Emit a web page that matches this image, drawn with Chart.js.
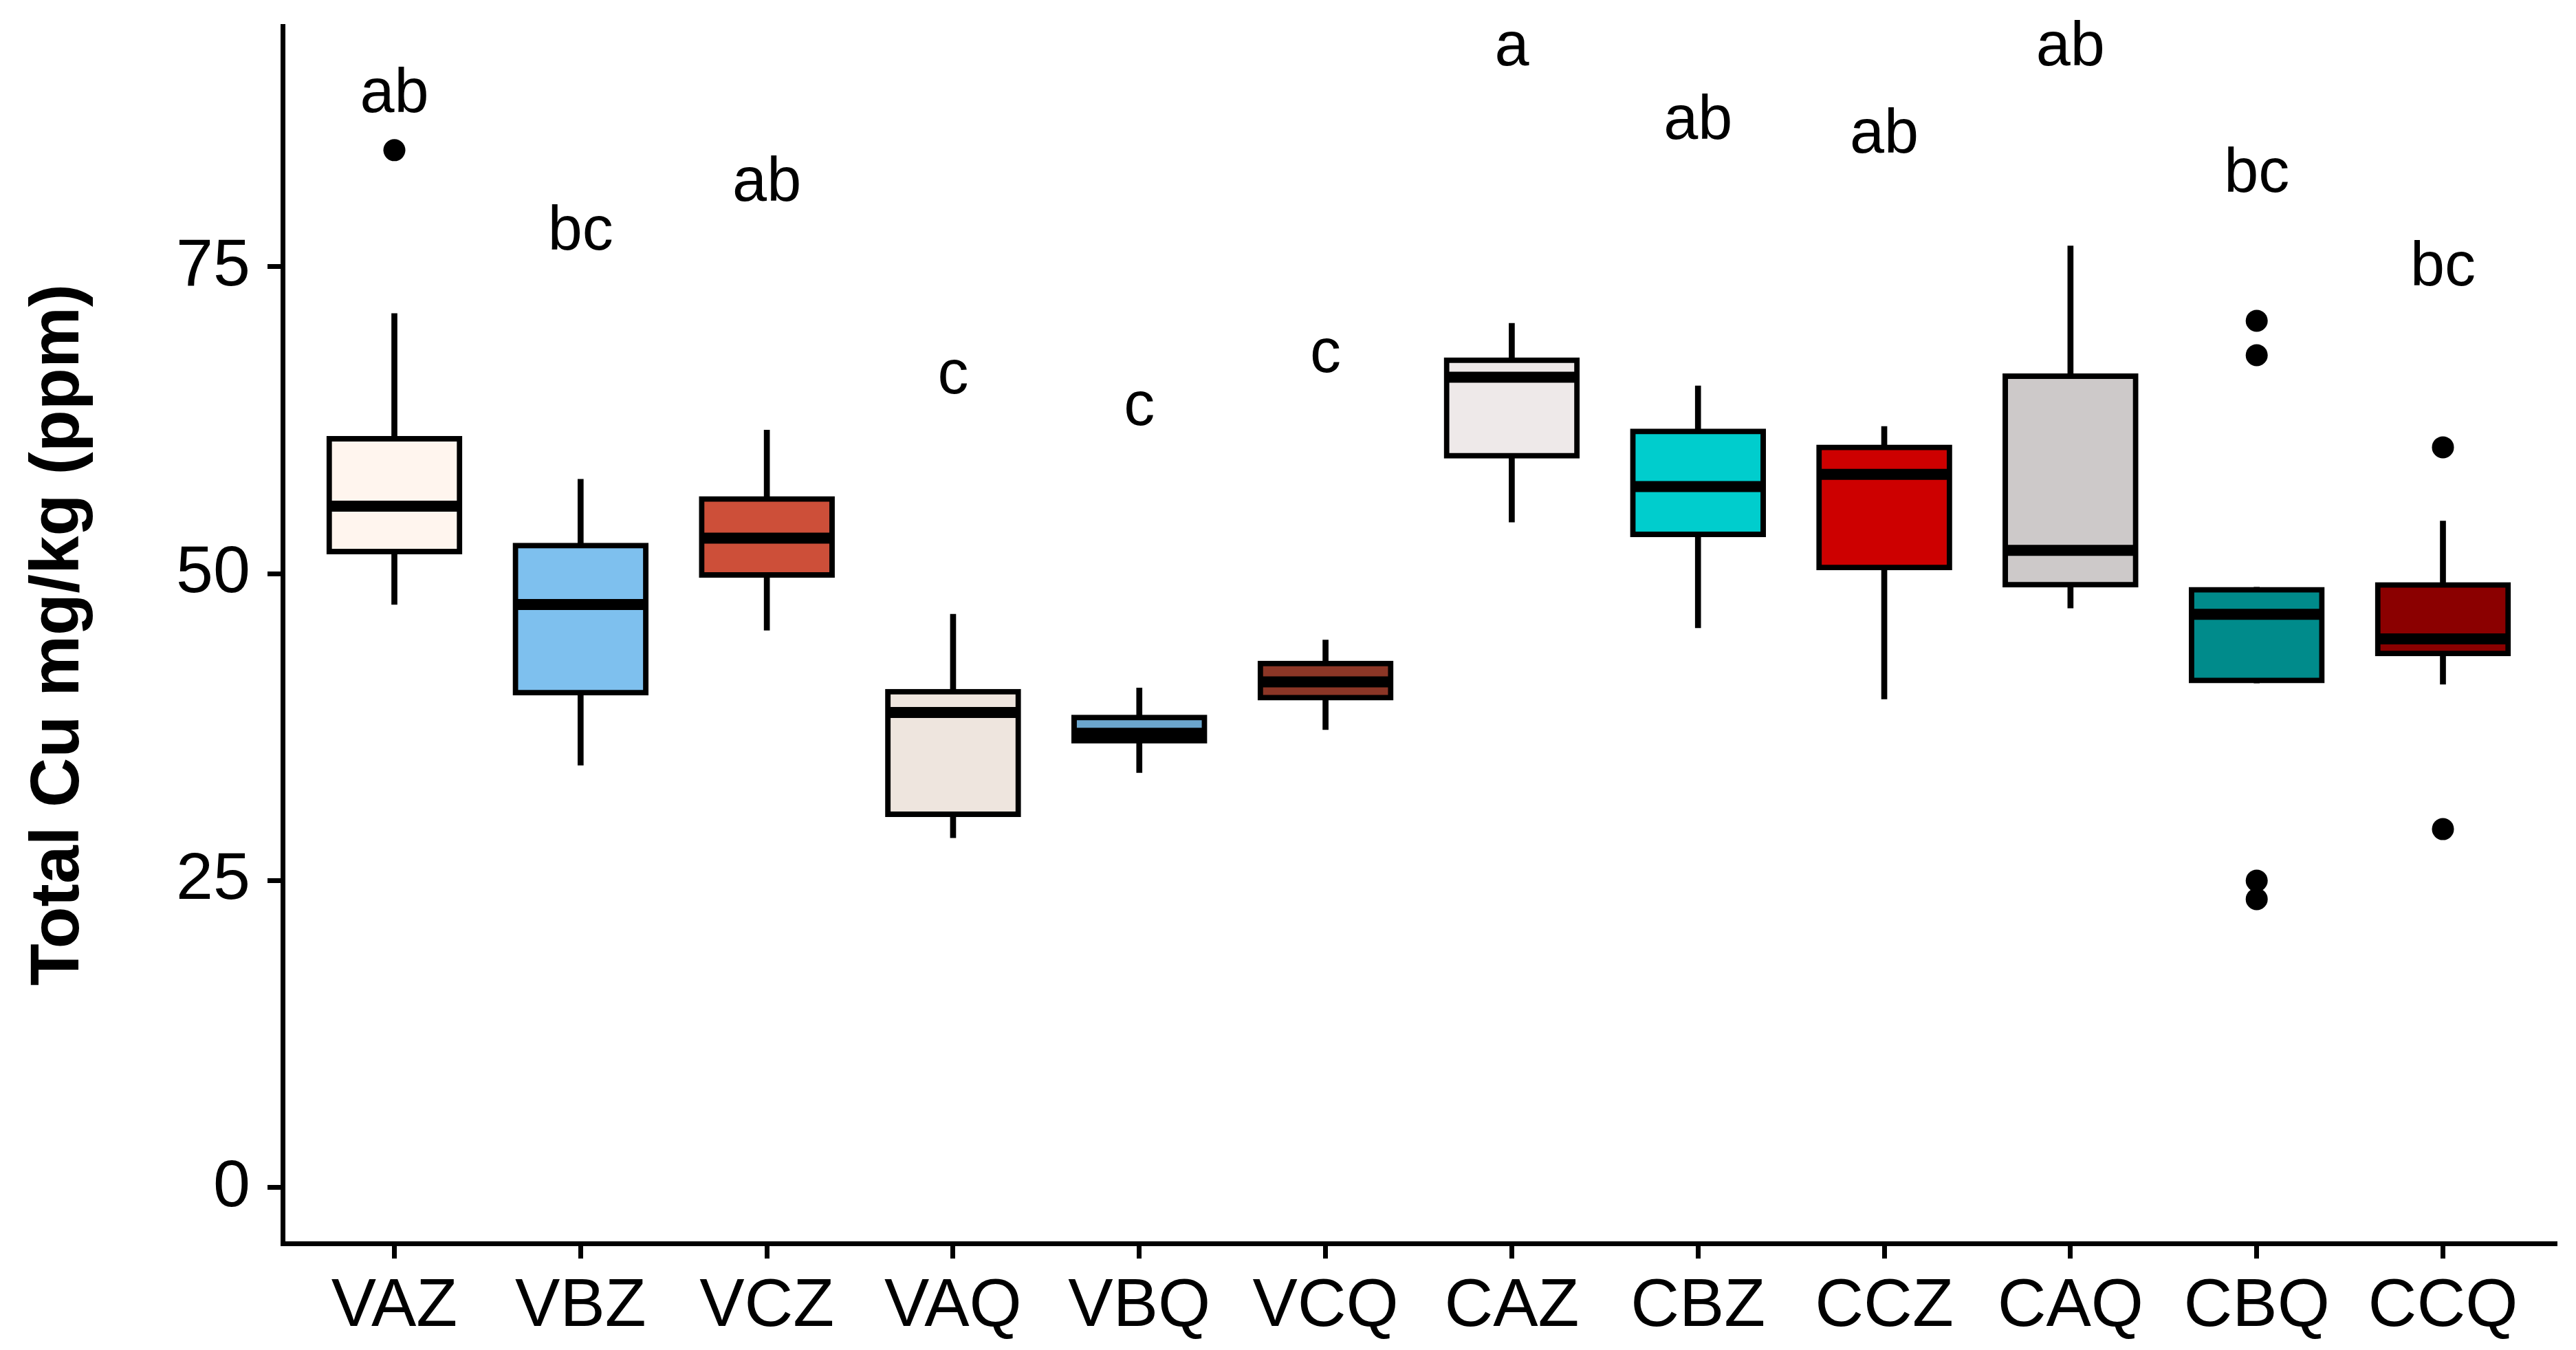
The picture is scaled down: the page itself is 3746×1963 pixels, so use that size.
<!DOCTYPE html>
<html><head><meta charset="utf-8">
<script src="https://cdn.jsdelivr.net/npm/chart.js@4.4.0/dist/chart.umd.min.js"></script>
<style>html,body{margin:0;padding:0;background:#fff;overflow:hidden}#wrap{width:3746px;height:1963px}</style>
</head><body><div id="wrap"><canvas id="c" width="3746" height="1963"></canvas></div>
<script>
const categories = ['VAZ','VBZ','VCZ','VAQ','VBQ','VCQ','CAZ','CBZ','CCZ','CAQ','CBQ','CCQ'];
const whiskerLow  = [47.5,34.4,45.4,28.5,33.8,37.3,54.2,45.6,39.8,47.2,41.1,41.0];
const q1          = [51.6,40.1,49.7,30.2,36.2,39.7,59.4,53.0,50.3,48.9,41.1,43.3];
const medians     = [55.5,47.5,52.9,38.7,37.0,41.2,66.0,57.1,58.1,51.9,46.7,44.7];
const q3          = [61.2,52.5,56.3,40.6,38.5,42.9,67.6,61.8,60.5,66.3,48.9,49.3];
const whiskerHigh = [71.2,57.7,61.7,46.7,40.7,44.6,70.4,65.3,62.0,76.7,48.9,54.3];
const outliers = [[84.5],[],[],[],[],[],[],[],[],[],[70.6,67.8,25.0,23.5],[60.3,29.2]];
const groupLetters = ['ab','bc','ab','c','c','c','a','ab','ab','ab','bc','bc'];
const letterY = [87.6,76.4,80.4,64.7,62.1,66.4,91.4,85.4,84.3,91.4,81.1,73.5];
const boxColors = ['#FFF5EE','#7EC0EE','#CD4F39','#EEE5DE','#6CA6CD','#8B3626','#EEE9E9','#00CDCD','#CD0000','#CDC9C9','#008B8B','#8B0000'];
const yTicks = [0,25,50,75];
const yTitle = 'Total Cu mg/kg (ppm)';

const FONT = '"Liberation Sans", Arial, sans-serif';

const whiskerData = categories.map((c,i)=>({x:i, y:[whiskerLow[i], whiskerHigh[i]]}));
const boxData = categories.map((c,i)=>({x:i, y:[q1[i], q3[i]]}));
const medianData = categories.map((c,i)=>({x:i, y:medians[i]}));
const outlierData = [];
outliers.forEach((arr,i)=>arr.forEach(v=>outlierData.push({x:i, y:v})));
const letterData = categories.map((c,i)=>({x:i, y:letterY[i]}));

const letterPlugin = {
  id:'letters',
  afterDatasetsDraw(chart){
    const meta = chart.getDatasetMeta(4);
    const ctx = chart.ctx;
    ctx.save();
    ctx.font = '90px ' + FONT;
    ctx.textAlign = 'center';
    ctx.textBaseline = 'alphabetic';
    ctx.fillStyle = '#000';
    meta.data.forEach((pt,i)=>ctx.fillText(groupLetters[i], pt.x, pt.y));
    ctx.restore();
  }
};

function noPad(s){ s.paddingTop = 0; s.paddingBottom = 0; s.paddingLeft = 0; s.paddingRight = 0; }

new Chart(document.getElementById('c'), {
  type:'bar',
  data:{
    datasets:[
      {type:'bar', data:whiskerData, backgroundColor:'#000', borderWidth:0, barThickness:8, grouped:false, order:4},
      {type:'bar', data:boxData, backgroundColor:boxColors, borderColor:'#000', borderWidth:8, borderSkipped:false, barThickness:197, grouped:false, order:3},
      {type:'scatter', data:medianData, pointStyle:'line', pointRadius:95, pointHoverRadius:95, borderColor:'#000', pointBorderWidth:16, borderWidth:16, order:2},
      {type:'scatter', data:outlierData, pointStyle:'circle', pointRadius:16, pointHoverRadius:16, backgroundColor:'#000', borderColor:'#000', borderWidth:0, order:1},
      {type:'scatter', data:letterData, pointRadius:0, pointHoverRadius:0, order:0}
    ]
  },
  options:{
    responsive:false, animation:false, devicePixelRatio:1,
    layout:{autoPadding:false, padding:{left:0, top:38, right:31, bottom:0}},
    plugins:{legend:{display:false}, tooltip:{enabled:false}},
    scales:{
      x:{
        type:'linear', min:-0.6, max:11.6, offset:false,
        afterBuildTicks(s){ s.ticks = categories.map((c,i)=>({value:i})); },
        afterFit(s){ s.height = 155; noPad(s); },
        ticks:{callback:(v)=>categories[v], font:{family:FONT, size:98}, color:'#000', padding:12, autoSkip:false, maxRotation:0, minRotation:0},
        grid:{display:true, offset:false, drawOnChartArea:false, drawTicks:true, tickLength:22, color:'#000', lineWidth:7},
        border:{display:true, color:'#000', width:7}
      },
      y:{
        type:'linear', min:-4.54, max:94.6,
        afterBuildTicks(s){ s.ticks = yTicks.map(v=>({value:v})); },
        afterFit(s){ s.width = 411; noPad(s); },
        ticks:{font:{family:FONT, size:97}, color:'#000', padding:25},
        grid:{display:true, offset:false, drawOnChartArea:false, drawTicks:true, tickLength:22, color:'#000', lineWidth:7},
        border:{display:true, color:'#000', width:7},
        title:{display:true, text:yTitle, color:'#000', font:{family:FONT, size:100, weight:'bold'}, padding:{top:26, bottom:0}}
      }
    }
  },
  plugins:[letterPlugin]
});
</script></body></html>
